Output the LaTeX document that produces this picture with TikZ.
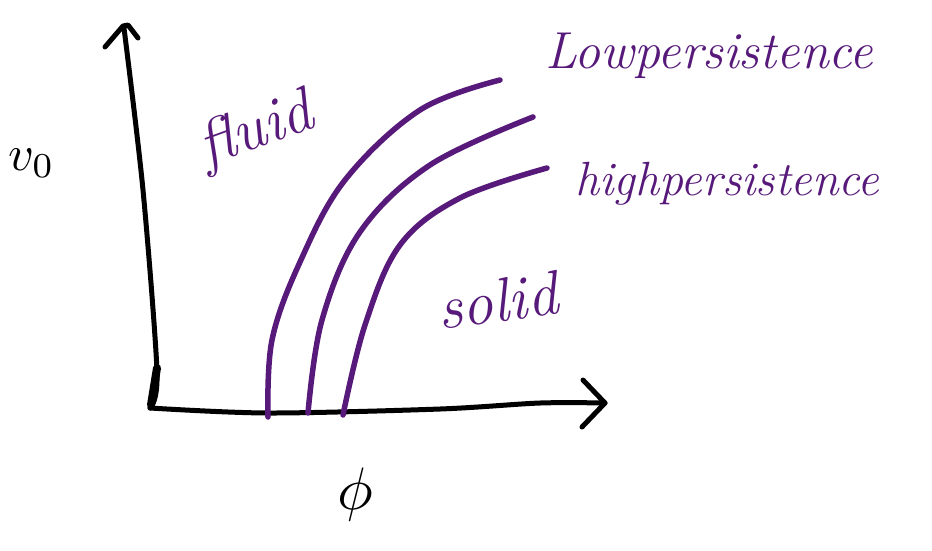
\documentclass[tikz,border=0pt]{standalone}
\usepackage{tikz}
\definecolor{ink}{RGB}{88,26,122}
\tikzset{
  axisline/.style={line width=5pt, black, line cap=round, line join=round},
  curve/.style={line width=5.5pt, ink, line cap=round, line join=round},
  lbl/.style={ink, inner sep=0pt, anchor=base west},
}
\begin{document}
\begin{tikzpicture}[x=1pt,y=-1pt]
\useasboundingbox[fill=white] (0,0) rectangle (932,550);
% vertical axis
\draw[axisline] plot[smooth, tension=0.5] coordinates {(150,408) (157,372) (143,190) (124,28)};
\draw[axisline, line width=8pt] (151,405) -- (157,368);
\draw[axisline] (105,47) -- (123,26) -- (128,25) -- (138,38);
% horizontal axis
\draw[axisline] plot[smooth, tension=0.5] coordinates {(150,408) (268,413) (440,409) (540,403) (605,403)};
\draw[axisline] (583,380) -- (605,403) -- (582,427);
% curves
\draw[curve] plot[smooth, tension=0.6] coordinates {(268,417) (272,340) (300,262) (345,180) (420,110) (500,80)};
\draw[curve] plot[smooth, tension=0.6] coordinates {(308,413) (322,320) (360,232) (430,165) (533,117)};
\draw[curve] plot[smooth, tension=0.6] coordinates {(343,415) (365,325) (400,245) (460,198) (547,168)};
% labels
\node[lbl, rotate=20, font=\fontsize{62}{62}\selectfont\itshape] (fluid) at (206,167) {fluid};
\node[lbl, rotate=8, font=\fontsize{62}{62}\selectfont\itshape] (solid) at (440,330) {solid};
\node[lbl, font=\fontsize{52}{52}\selectfont\itshape] (low) at (545,68) {Lowpersistence};
\node[lbl, font=\fontsize{48}{48}\selectfont\itshape] (high) at (575,195) {highpersistence};
\node[inner sep=0pt, anchor=base west] (v0) at (8,170) {\scalebox{5}{$v_0$}};
\node[inner sep=0pt] (phi) at (355,494) {\scalebox{6}{$\phi$}};
\end{tikzpicture}
\end{document}
